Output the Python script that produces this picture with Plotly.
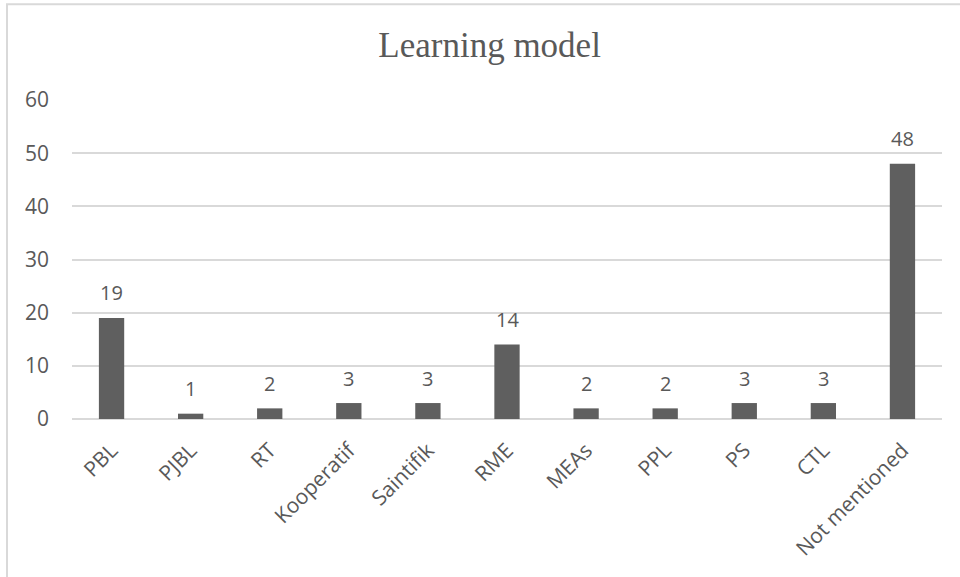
import plotly.graph_objects as go

# Learning model counts
categories = ["PBL", "PJBL", "RT", "Kooperatif", "Saintifik", "RME",
              "MEAs", "PPL", "PS", "CTL", "Not mentioned"]
counts = [19, 1, 2, 3, 3, 14, 2, 2, 3, 3, 48]
y_ticks = [0, 10, 20, 30, 40, 50, 60]

BAR = "#5f5f5f"
TEXT = "#595959"
GRID = "#d9d9d9"
FONT = "Open Sans"

fig = go.Figure(
    go.Bar(
        x=categories,
        y=counts,
        marker=dict(color=BAR, line=dict(width=0)),
        width=0.32,
        hoverinfo="x+y",
    )
)

# value labels above each bar
for c, v in zip(categories, counts):
    fig.add_annotation(
        x=c, y=v, text=str(v), showarrow=False,
        yanchor="middle", yshift=25,
        font=dict(family=FONT, size=20, color=TEXT),
    )

# chart frame (left and top edges visible)
fig.add_shape(
    type="rect", xref="paper", yref="paper",
    x0=-0.0747, x1=1.2, y0=-1.0, y1=1.30,
    line=dict(color=GRID, width=2), fillcolor="rgba(0,0,0,0)",
    layer="below",
)

fig.update_layout(
    width=960, height=577,
    margin=dict(l=72, r=18, t=100, b=158),
    paper_bgcolor="white", plot_bgcolor="white",
    showlegend=False,
    title=dict(
        text="Learning model", x=0.51, xanchor="center",
        y=0.922, yanchor="middle",
        font=dict(family="Liberation Serif", size=35, color=TEXT),
    ),
    xaxis=dict(
        tickangle=-45, showgrid=False, showline=False, ticks="",
        ticklabelstandoff=14,
        tickfont=dict(family=FONT, size=21, color=TEXT),
    ),
    yaxis=dict(
        range=[0, 60], tickvals=y_ticks, showgrid=True, gridcolor=GRID,
        gridwidth=1.5, zeroline=True, zerolinecolor=GRID, zerolinewidth=2,
        showline=False, ticks="", ticklabelstandoff=22,
        tickfont=dict(family=FONT, size=21, color=TEXT),
    ),
)

fig.write_html("out.html")
